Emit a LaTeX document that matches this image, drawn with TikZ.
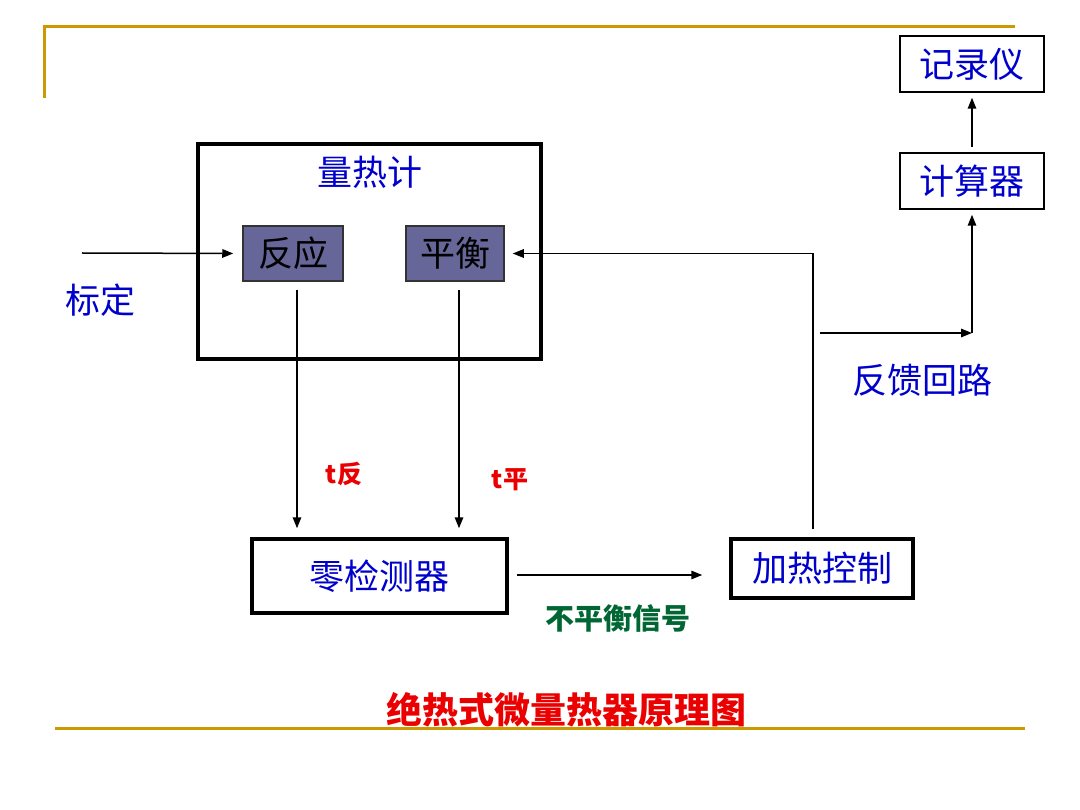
\documentclass[tikz,border=0pt]{standalone}
\usepackage{fontspec}
\setmainfont{Noto Sans CJK SC}
\usetikzlibrary{arrows.meta}

\definecolor{lanse}{RGB}{0,0,204}
\definecolor{hongse}{RGB}{235,0,0}
\definecolor{lvse}{RGB}{0,102,51}
\definecolor{jinse}{RGB}{204,153,0}
\definecolor{zise}{RGB}{102,102,153}

\tikzset{
    kuang/.style={draw, line width=3.5pt, inner sep=0pt},
    xiaokuang/.style={draw, line width=1.5pt, inner sep=0pt},
    zikuang/.style={draw=black!80, fill=zise, line width=1.5pt, inner sep=0pt},
    dazi/.style={font=\fontsize{35}{38}\selectfont},
    xian/.style={line width=1.5pt, -{Triangle[length=11pt,width=8.5pt]}},
}

\begin{document}
\begin{tikzpicture}[x=1pt, y=-1pt]
    \useasboundingbox (0,0) rectangle (1080,810);

    % Page lines
    \draw[jinse, line width=3pt] (44,98) -- (44,27) -- (1015,27);
    \draw[jinse, line width=3pt] (55,728) -- (1025,728);

    % Calorimeter
    \node[kuang, minimum width=343pt, minimum height=215pt] (liangre) at (369.5,251.5) {};
    \node[dazi, text=lanse] (liangreti) at (370,172) {量热计};
    \node[zikuang, dazi, minimum width=100pt, minimum height=55pt] (fanying) at (293,253.5) {反应};
    \node[zikuang, dazi, minimum width=98pt, minimum height=55pt] (pingheng) at (455,253.5) {平衡};

    % Calibration input
    \coordinate (biaodingin) at (82,253);
    \node[dazi, text=lanse] (biaoding) at (100,300) {标定};
    \draw[xian, shorten >=9pt] (biaodingin) -- (fanying.west);

    % Temperatures to null detector
    \node[kuang, dazi, text=lanse, minimum width=255pt, minimum height=74pt] (jiance) at (379.5,576) {零检测器};
    \draw[xian, shorten <=8pt, shorten >=9pt] ([xshift=4pt]fanying.south) -- ([xshift=4pt]fanying.south |- jiance.north);
    \draw[xian, shorten <=8pt, shorten >=9pt] ([xshift=4pt]pingheng.south) -- ([xshift=4pt]pingheng.south |- jiance.north);
    \node[text=hongse, font=\fontsize{25}{27}\selectfont\bfseries] (tfan) at (344,474) {t反};
    \node[text=hongse, font=\fontsize{25}{27}\selectfont\bfseries] (tping) at (510,480) {t平};

    % Unbalance signal
    \node[kuang, dazi, text=lanse, minimum width=182pt, minimum height=59pt] (jiare) at (822,568.5) {加热控制};
    \draw[xian, shorten <=8pt, shorten >=27pt] ([yshift=1pt]jiance.east) -- ([yshift=1pt]jiance.east -| jiare.west);
    \node[text=lvse, font=\fontsize{29}{31}\selectfont\bfseries] (buping) at (618,618) {不平衡信号};

    % Heating back to balance cell
    \draw[xian, shorten <=8pt, shorten >=8pt] ([xshift=-9pt]jiare.north) |- (pingheng.east);

    % Feedback loop to computer and recorder
    \node[xiaokuang, dazi, text=lanse, minimum width=144pt, minimum height=56pt] (jisuan) at (972,181) {计算器};
    \node[xiaokuang, dazi, text=lanse, minimum width=144pt, minimum height=56pt] (jilu) at (972,64) {记录仪};
    \coordinate (fankuiin) at (820,333);
    \coordinate (zhuanjiao) at (972,333);
    \draw[xian] (fankuiin) -- (zhuanjiao);
    \draw[xian, shorten >=5pt] (zhuanjiao) -- (jisuan.south);
    \draw[xian, shorten <=5pt, shorten >=5pt] (jisuan.north) -- (jilu.south);
    \node[dazi, text=lanse] (fankui) at (922,380) {反馈回路};

    % Title
    \node[text=hongse, font=\fontsize{36}{39}\selectfont\bfseries] (biaoti) at (566,710) {绝热式微量热器原理图};
\end{tikzpicture}
\end{document}
